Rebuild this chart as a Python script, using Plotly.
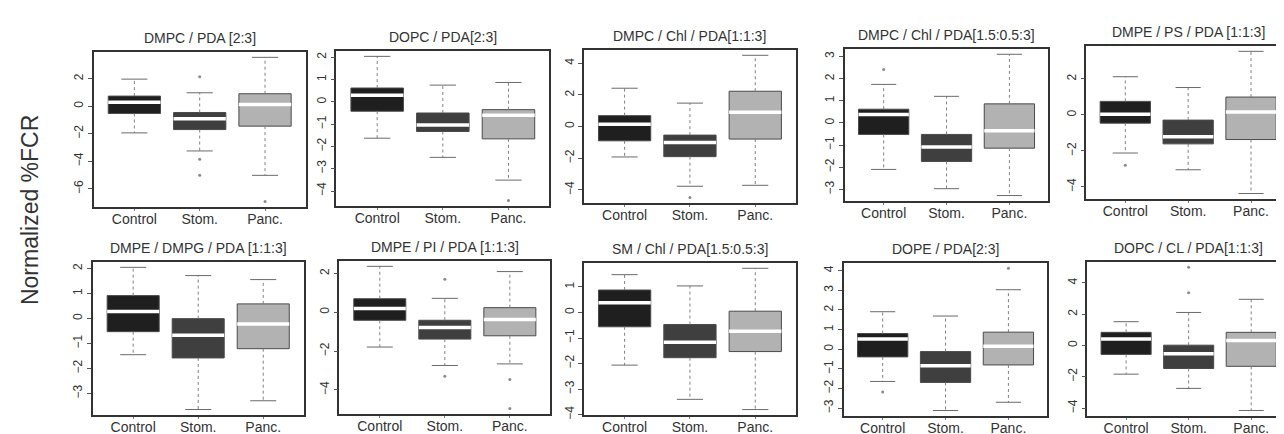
import plotly.graph_objects as go

# ---------------- data ----------------
panel_titles = [
    "DMPC / PDA [2:3]", "DOPC / PDA[2:3]", "DMPC / Chl / PDA[1:1:3]",
    "DMPC / Chl / PDA[1.5:0.5:3]", "DMPE / PS / PDA [1:1:3]",
    "DMPE / DMPG / PDA [1:1:3]", "DMPE / PI / PDA [1:1:3]",
    "SM / Chl / PDA[1.5:0.5:3]", "DOPE / PDA[2:3]", "DOPC / CL / PDA[1:1:3]",
]
groups = ["Control", "Stom.", "Panc."]

lower_whisker = [
    [-1.94, -3.25, -5.02], [-1.63, -2.49, -3.51], [-1.92, -3.77, -3.71],
    [-2.10, -2.97, -3.28], [-2.12, -3.05, -4.37], [-1.45, -3.64, -3.29],
    [-1.79, -2.74, -2.66], [-2.06, -3.40, -3.80], [-1.64, -3.12, -2.70],
    [-1.83, -2.74, -4.15],
]
q1 = [
    [-0.53, -1.70, -1.45], [-0.42, -1.33, -1.66], [-0.90, -1.90, -0.79],
    [-0.52, -1.74, -1.14], [-0.46, -1.61, -1.37], [-0.53, -1.58, -1.21],
    [-0.41, -1.38, -1.21], [-0.56, -1.77, -1.53], [-0.39, -1.69, -0.80],
    [-0.57, -1.47, -1.33],
]
medians = [
    [0.29, -0.92, 0.12], [0.30, -1.04, -0.60], [0.15, -1.00, 0.90],
    [0.38, -1.09, -0.35], [0.04, -1.21, 0.16], [0.28, -0.67, -0.22],
    [0.20, -0.78, -0.37], [0.38, -1.17, -0.73], [0.52, -0.84, 0.15],
    [0.42, -0.53, 0.32],
]
q3 = [
    [0.73, -0.46, 0.90], [0.62, -0.50, -0.35], [0.69, -0.54, 2.23],
    [0.62, -0.52, 0.86], [0.75, -0.29, 0.99], [0.91, -0.01, 0.58],
    [0.70, -0.41, 0.24], [0.88, -0.47, 0.05], [0.80, -0.12, 0.87],
    [0.84, 0.02, 0.84],
]
upper_whisker = [
    [1.96, 0.97, 3.54], [2.04, 0.75, 0.87], [2.42, 1.48, 4.50],
    [1.74, 1.20, 3.10], [2.12, 1.52, 3.53], [2.04, 1.71, 1.55],
    [2.37, 0.72, 2.10], [1.48, 1.04, 1.73], [1.91, 1.69, 3.03],
    [1.52, 2.11, 2.95],
]
outliers = [
    [[], [2.13, -3.85, -5.02], [-6.91]],
    [[], [], [-4.42]],
    [[], [-4.48], []],
    [[2.41], [], []],
    [[-2.80], [], []],
    [[], [], []],
    [[], [1.70, -3.29], [-3.46, -4.96]],
    [[], [], []],
    [[-2.18], [], [4.12]],
    [[], [4.99, 3.37], []],
]
ytick_vals = [
    [-6, -4, -2, 0, 2], [-4, -3, -2, -1, 0, 1, 2], [-4, -2, 0, 2, 4],
    [-3, -2, -1, 0, 1, 2, 3], [-4, -2, 0, 2], [-3, -2, -1, 0, 1, 2],
    [-4, -2, 0, 2], [-4, -3, -2, -1, 0, 1], [-3, -2, -1, 0, 1, 2, 3, 4],
    [-4, -2, 0, 2, 4],
]
y_title = "Normalized %FCR"

# ---------------- styling / layout ----------------
W, H = 1284, 434
fills = ["#1f1f1f", "#3f3f3f", "#b2b2b2"]
FONT = "Liberation Sans, Arial, sans-serif"
TXT = "#333333"

# panel frames in pixels: (left, right, top, bottom)
frames = [
    (86, 298, 44, 201), (329, 542, 43, 200), (577, 789, 42, 197),
    (838, 1042, 41, 195), (1080, 1284, 38, 193),
    (85, 296, 256, 411), (332, 543, 255, 410), (577, 789, 257, 411),
    (837, 1041, 257, 412), (1081, 1284, 256, 412),
]

fig = go.Figure()
layout = {}
annotations = []

for p in range(10):
    sfx = "" if p == 0 else str(p + 1)
    xa, ya = "x" + sfx, "y" + sfx
    pos = [1, 2, 3]

    wx, wy, cx, cy, mx, my = [], [], [], [], [], []
    for i, x in enumerate(pos):
        wx += [x, x, None, x, x, None]
        wy += [q3[p][i], upper_whisker[p][i], None, q1[p][i], lower_whisker[p][i], None]
        cx += [x - 0.2, x + 0.2, None, x - 0.2, x + 0.2, None]
        cy += [upper_whisker[p][i]] * 2 + [None] + [lower_whisker[p][i]] * 2 + [None]
        mx += [x - 0.4, x + 0.4, None]
        my += [medians[p][i], medians[p][i], None]

    fig.add_trace(go.Scatter(x=wx, y=wy, mode="lines", xaxis=xa, yaxis=ya,
                             line=dict(color="#808080", width=1, dash="dot"),
                             showlegend=False, hoverinfo="skip"))
    fig.add_trace(go.Bar(x=pos, y=[q3[p][i] - q1[p][i] for i in range(3)],
                         base=q1[p], width=0.8, xaxis=xa, yaxis=ya,
                         marker=dict(color=fills, line=dict(color="#4a4a4a", width=1)),
                         showlegend=False, hoverinfo="skip"))
    fig.add_trace(go.Scatter(x=mx, y=my, mode="lines", xaxis=xa, yaxis=ya,
                             line=dict(color="white", width=3.5),
                             showlegend=False, hoverinfo="skip"))
    fig.add_trace(go.Scatter(x=cx, y=cy, mode="lines", xaxis=xa, yaxis=ya,
                             line=dict(color="#6a6a6a", width=1),
                             showlegend=False, hoverinfo="skip"))
    ox, oy = [], []
    for i, x in enumerate(pos):
        for v in outliers[p][i]:
            ox.append(x)
            oy.append(v)
    if ox:
        fig.add_trace(go.Scatter(x=ox, y=oy, mode="markers", xaxis=xa, yaxis=ya,
                                 marker=dict(symbol="circle", size=3, color="#8a8a8a"),
                                 showlegend=False, hoverinfo="skip"))

    # y limits like R: data range expanded by 4%
    allv = lower_whisker[p] + upper_whisker[p] + [v for g in outliers[p] for v in g]
    lo, hi = min(allv), max(allv)
    pad = 0.04 * (hi - lo)

    l, r, t, b = frames[p]
    layout["xaxis" + sfx] = dict(
        domain=[l / W, r / W], anchor=ya, range=[0.38, 3.62],
        tickvals=pos, ticktext=groups, ticks="outside", ticklen=2,
        tickcolor="#777", showgrid=False, zeroline=False,
        showline=True, mirror=True, linecolor="#333", linewidth=1.5,
        ticklabelstandoff=-4,
        tickfont=dict(family=FONT, size=14, color=TXT), fixedrange=True,
    )
    layout["yaxis" + sfx] = dict(
        domain=[1 - b / H, 1 - t / H], anchor=xa, range=[lo - pad, hi + pad],
        tickvals=ytick_vals[p], ticks="outside", ticklen=4, tickcolor="#555",
        tickangle=-90, showgrid=False, zeroline=False,
        showline=True, mirror=True, linecolor="#333", linewidth=1.5,
        tickfont=dict(family=FONT, size=12, color=TXT), fixedrange=True,
    )
    annotations.append(dict(
        text=panel_titles[p], x=(l + r) / 2 / W, y=1 - (t - 14) / H,
        xref="paper", yref="paper", showarrow=False,
        xanchor="center", yanchor="middle",
        font=dict(family=FONT, size=14, color=TXT),
    ))

annotations.append(dict(
    text=y_title, x=22 / W, y=1 - 204 / H, xref="paper", yref="paper",
    showarrow=False, textangle=-90, xanchor="center", yanchor="middle",
    font=dict(family=FONT, size=23, color=TXT),
))

fig.update_layout(
    width=W, height=H, margin=dict(l=0, r=0, t=0, b=0),
    paper_bgcolor="white", plot_bgcolor="white",
    barmode="overlay", annotations=annotations, **layout,
)

fig.write_html("out.html")
